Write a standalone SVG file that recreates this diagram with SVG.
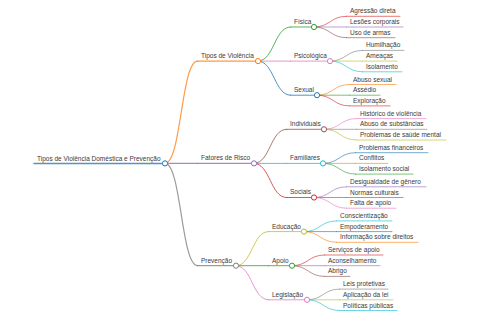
<svg xmlns="http://www.w3.org/2000/svg" width="480" height="320" viewBox="0 0 480 320">
<style>
text{font-family:"Liberation Sans",Arial,sans-serif;font-size:6.5px;fill:#3a3a3a}
path,line{fill:none;stroke-linecap:round;stroke-opacity:0.78}
circle{fill:#fff;stroke-width:1}
.c0{stroke:#1f77b4}.c1{stroke:#ff7f0e}.c2{stroke:#2ca02c}.c3{stroke:#d62728}.c4{stroke:#9467bd}
.c5{stroke:#8c564b}.c6{stroke:#e377c2}.c7{stroke:#7f7f7f}.c8{stroke:#bcbd22}.c9{stroke:#17becf}
.d0{stroke-width:1.5}.d1{stroke-width:1.2}.d2{stroke-width:1}.d3{stroke-width:0.8}
</style>
<rect width="480" height="320" fill="#fff"/>
<g id="connectors">
<path class="c1 d1" d="M165,163.4C181.25,163.4 181.25,61.1 197.5,61.1"/>
<path class="c4 d1" d="M165,163.4L197.5,163.4"/>
<path class="c7 d1" d="M165,163.4C181.25,163.4 181.25,265.7 197.5,265.7"/>
<path class="c2 d2" d="M258,61.1C274.25,61.1 274.25,27 290.5,27"/>
<path class="c6 d2" d="M258,61.1L290.5,61.1"/>
<path class="c0 d2" d="M258,61.1C274.25,61.1 274.25,95.2 290.5,95.2"/>
<path class="c5 d2" d="M254,163.4C270.25,163.4 270.25,129.3 286.5,129.3"/>
<path class="c9 d2" d="M254,163.4L286.5,163.4"/>
<path class="c3 d2" d="M254,163.4C270.25,163.4 270.25,197.5 286.5,197.5"/>
<path class="c8 d2" d="M236,265.7C252.25,265.7 252.25,231.6 268.5,231.6"/>
<path class="c2 d2" d="M236,265.7L268.5,265.7"/>
<path class="c6 d2" d="M236,265.7C252.25,265.7 252.25,299.8 268.5,299.8"/>
<path class="c3 d3" d="M314,27C330.25,27 330.25,16.3 346.5,16.3"/>
<path class="c4 d3" d="M314,27L346.5,27"/>
<path class="c5 d3" d="M314,27C330.25,27 330.25,37.7 346.5,37.7"/>
<path class="c7 d3" d="M330,61.1C346.25,61.1 346.25,50.4 362.5,50.4"/>
<path class="c8 d3" d="M330,61.1L362.5,61.1"/>
<path class="c9 d3" d="M330,61.1C346.25,61.1 346.25,71.8 362.5,71.8"/>
<path class="c1 d3" d="M317,95.2C333.25,95.2 333.25,84.5 349.5,84.5"/>
<path class="c2 d3" d="M317,95.2L349.5,95.2"/>
<path class="c3 d3" d="M317,95.2C333.25,95.2 333.25,105.9 349.5,105.9"/>
<path class="c6 d3" d="M324,129.3C340.25,129.3 340.25,118.6 356.5,118.6"/>
<path class="c7 d3" d="M324,129.3L356.5,129.3"/>
<path class="c8 d3" d="M324,129.3C340.25,129.3 340.25,140 356.5,140"/>
<path class="c0 d3" d="M323,163.4C339.25,163.4 339.25,152.7 355.5,152.7"/>
<path class="c1 d3" d="M323,163.4L355.5,163.4"/>
<path class="c2 d3" d="M323,163.4C339.25,163.4 339.25,174.1 355.5,174.1"/>
<path class="c4 d3" d="M314,197.5C330.25,197.5 330.25,186.8 346.5,186.8"/>
<path class="c5 d3" d="M314,197.5L346.5,197.5"/>
<path class="c6 d3" d="M314,197.5C330.25,197.5 330.25,208.2 346.5,208.2"/>
<path class="c9 d3" d="M304,231.6C320.25,231.6 320.25,220.9 336.5,220.9"/>
<path class="c0 d3" d="M304,231.6L336.5,231.6"/>
<path class="c1 d3" d="M304,231.6C320.25,231.6 320.25,242.3 336.5,242.3"/>
<path class="c3 d3" d="M292,265.7C308.25,265.7 308.25,255 324.5,255"/>
<path class="c4 d3" d="M292,265.7L324.5,265.7"/>
<path class="c5 d3" d="M292,265.7C308.25,265.7 308.25,276.4 324.5,276.4"/>
<path class="c7 d3" d="M307,299.8C323.25,299.8 323.25,289.1 339.5,289.1"/>
<path class="c8 d3" d="M307,299.8L339.5,299.8"/>
<path class="c9 d3" d="M307,299.8C323.25,299.8 323.25,310.5 339.5,310.5"/>
</g>
<g id="root"><line class="c0 d0" x1="34" y1="163.4" x2="165" y2="163.4"/><text x="37" y="160.5">Tipos de Violência Doméstica e Prevenção</text><circle class="c0" cx="165" cy="163.4" r="2.6"/></g>
<g id="tipos"><line class="c1 d1" x1="197.5" y1="61.1" x2="258" y2="61.1"/><text x="201" y="58">Tipos de Violência</text><circle class="c1" cx="258" cy="61.1" r="2.6"/></g>
<g id="fatores"><line class="c4 d1" x1="197.5" y1="163.4" x2="254" y2="163.4"/><text x="201" y="160.3">Fatores de Risco</text><circle class="c4" cx="254" cy="163.4" r="2.6"/></g>
<g id="prevencao"><line class="c7 d1" x1="197.5" y1="265.7" x2="236" y2="265.7"/><text x="201" y="262.6">Prevenção</text><circle class="c7" cx="236" cy="265.7" r="2.6"/></g>
<g id="fisica"><line class="c2 d2" x1="290.5" y1="27" x2="314" y2="27"/><text x="294" y="23.9">Física</text><circle class="c2" cx="314" cy="27" r="2.6"/></g>
<g id="psicologica"><line class="c6 d2" x1="290.5" y1="61.1" x2="330" y2="61.1"/><text x="294" y="58">Psicológica</text><circle class="c6" cx="330" cy="61.1" r="2.6"/></g>
<g id="sexual"><line class="c0 d2" x1="290.5" y1="95.2" x2="317" y2="95.2"/><text x="294" y="92.1">Sexual</text><circle class="c0" cx="317" cy="95.2" r="2.6"/></g>
<g id="individuais"><line class="c5 d2" x1="286.5" y1="129.3" x2="324" y2="129.3"/><text x="290" y="126.2">Individuais</text><circle class="c5" cx="324" cy="129.3" r="2.6"/></g>
<g id="familiares"><line class="c9 d2" x1="286.5" y1="163.4" x2="323" y2="163.4"/><text x="290" y="160.3">Familiares</text><circle class="c9" cx="323" cy="163.4" r="2.6"/></g>
<g id="sociais"><line class="c3 d2" x1="286.5" y1="197.5" x2="314" y2="197.5"/><text x="290" y="194.4">Sociais</text><circle class="c3" cx="314" cy="197.5" r="2.6"/></g>
<g id="educacao"><line class="c8 d2" x1="268.5" y1="231.6" x2="304" y2="231.6"/><text x="272" y="228.5">Educação</text><circle class="c8" cx="304" cy="231.6" r="2.6"/></g>
<g id="apoio"><line class="c2 d2" x1="268.5" y1="265.7" x2="292" y2="265.7"/><text x="272" y="262.6">Apoio</text><circle class="c2" cx="292" cy="265.7" r="2.6"/></g>
<g id="legislacao"><line class="c6 d2" x1="268.5" y1="299.8" x2="307" y2="299.8"/><text x="272" y="296.7">Legislação</text><circle class="c6" cx="307" cy="299.8" r="2.6"/></g>
<g id="agressao"><line class="c3 d3" x1="346.5" y1="16.3" x2="400" y2="16.3"/><text x="350" y="13.3">Agressão direta</text></g>
<g id="lesoes"><line class="c4 d3" x1="346.5" y1="27" x2="403" y2="27"/><text x="350" y="24">Lesões corporais</text></g>
<g id="armas"><line class="c5 d3" x1="346.5" y1="37.7" x2="395" y2="37.7"/><text x="350" y="34.7">Uso de armas</text></g>
<g id="humilhacao"><line class="c7 d3" x1="362.5" y1="50.4" x2="404" y2="50.4"/><text x="366" y="47.4">Humilhação</text></g>
<g id="ameacas"><line class="c8 d3" x1="362.5" y1="61.1" x2="397" y2="61.1"/><text x="366" y="58.1">Ameaças</text></g>
<g id="isolamento"><line class="c9 d3" x1="362.5" y1="71.8" x2="402" y2="71.8"/><text x="366" y="68.8">Isolamento</text></g>
<g id="abuso-sexual"><line class="c1 d3" x1="349.5" y1="84.5" x2="396" y2="84.5"/><text x="353" y="81.5">Abuso sexual</text></g>
<g id="assedio"><line class="c2 d3" x1="349.5" y1="95.2" x2="380" y2="95.2"/><text x="353" y="92.2">Assédio</text></g>
<g id="exploracao"><line class="c3 d3" x1="349.5" y1="105.9" x2="390" y2="105.9"/><text x="353" y="102.9">Exploração</text></g>
<g id="historico"><line class="c6 d3" x1="356.5" y1="118.6" x2="426" y2="118.6"/><text x="360" y="115.6">Histórico de violência</text></g>
<g id="substancias"><line class="c7 d3" x1="356.5" y1="129.3" x2="427" y2="129.3"/><text x="360" y="126.3">Abuso de substâncias</text></g>
<g id="saude"><line class="c8 d3" x1="356.5" y1="140" x2="446" y2="140"/><text x="360" y="137">Problemas de saúde mental</text></g>
<g id="financeiros"><line class="c0 d3" x1="355.5" y1="152.7" x2="428" y2="152.7"/><text x="359" y="149.7">Problemas financeiros</text></g>
<g id="conflitos"><line class="c1 d3" x1="355.5" y1="163.4" x2="388" y2="163.4"/><text x="359" y="160.4">Conflitos</text></g>
<g id="isolamento-social"><line class="c2 d3" x1="355.5" y1="174.1" x2="413" y2="174.1"/><text x="359" y="171.1">Isolamento social</text></g>
<g id="desigualdade"><line class="c4 d3" x1="346.5" y1="186.8" x2="426" y2="186.8"/><text x="350" y="183.8">Desigualdade de gênero</text></g>
<g id="normas"><line class="c5 d3" x1="346.5" y1="197.5" x2="403" y2="197.5"/><text x="350" y="194.5">Normas culturais</text></g>
<g id="falta"><line class="c6 d3" x1="346.5" y1="208.2" x2="396" y2="208.2"/><text x="350" y="205.2">Falta de apoio</text></g>
<g id="conscientizacao"><line class="c9 d3" x1="336.5" y1="220.9" x2="392" y2="220.9"/><text x="340" y="217.9">Conscientização</text></g>
<g id="empoderamento"><line class="c0 d3" x1="336.5" y1="231.6" x2="392" y2="231.6"/><text x="340" y="228.6">Empoderamento</text></g>
<g id="informacao"><line class="c1 d3" x1="336.5" y1="242.3" x2="418" y2="242.3"/><text x="340" y="239.3">Informação sobre direitos</text></g>
<g id="servicos"><line class="c3 d3" x1="324.5" y1="255" x2="383" y2="255"/><text x="328" y="252">Serviços de apoio</text></g>
<g id="aconselhamento"><line class="c4 d3" x1="324.5" y1="265.7" x2="380" y2="265.7"/><text x="328" y="262.7">Aconselhamento</text></g>
<g id="abrigo"><line class="c5 d3" x1="324.5" y1="276.4" x2="350" y2="276.4"/><text x="328" y="273.4">Abrigo</text></g>
<g id="leis"><line class="c7 d3" x1="339.5" y1="289.1" x2="388" y2="289.1"/><text x="343" y="286.1">Leis protetivas</text></g>
<g id="aplicacao"><line class="c8 d3" x1="339.5" y1="299.8" x2="393" y2="299.8"/><text x="343" y="296.8">Aplicação da lei</text></g>
<g id="politicas"><line class="c9 d3" x1="339.5" y1="310.5" x2="397" y2="310.5"/><text x="343" y="307.5">Políticas públicas</text></g>
</svg>
